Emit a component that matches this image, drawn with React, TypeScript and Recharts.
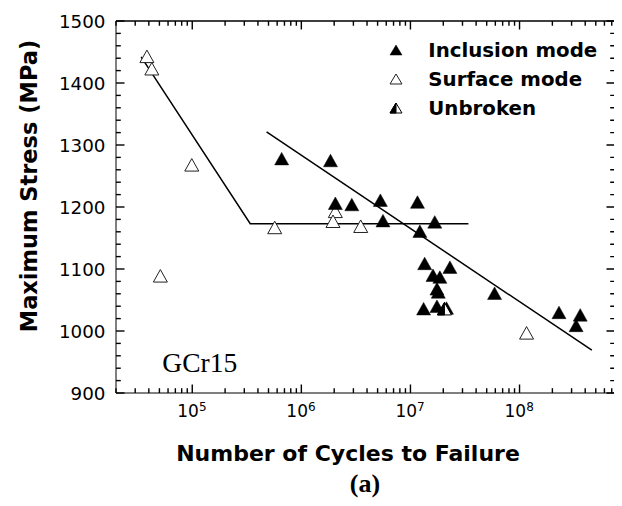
import React from 'react';
import { ScatterChart, Scatter, XAxis, YAxis } from 'recharts';

// ---- data ----
const inclusionX = [6.6e5, 1.85e6, 2.05e6, 2.9e6, 5.3e6, 5.6e6, 1.16e7, 1.67e7, 1.22e7, 1.35e7, 2.3e7, 1.61e7, 1.86e7, 1.75e7, 1.8e7, 1.32e7, 1.75e7, 2.14e7, 5.9e7, 2.3e8, 3.6e8, 3.3e8];
const inclusionY = [1278, 1275, 1206, 1204, 1211, 1178, 1208, 1176, 1161, 1109, 1103, 1090, 1087, 1068, 1063, 1036, 1040, 1037, 1061, 1030, 1026, 1009];
const surfaceX = [3.84e4, 4.26e4, 0.99e5, 5.1e4, 5.7e5, 2.05e6, 1.95e6, 3.5e6, 1.16e8];
const surfaceY = [1443, 1423, 1268, 1089, 1167, 1193, 1177, 1169, 997];
const unbrokenX = [2.05e7];
const unbrokenY = [1036];
const fitAX = [3.4e4, 3.4e5, 3.4e7];
const fitAY = [1442, 1173, 1173];
const fitBX = [4.8e5, 4.6e8];
const fitBY = [1321, 969];

const xDomain = [2e4, 7.5e8];
const yDomain = [900, 1500];
const xTicks = [
  2e4, 3e4, 4e4, 5e4, 6e4, 7e4, 8e4, 9e4,
  1e5, 2e5, 3e5, 4e5, 5e5, 6e5, 7e5, 8e5, 9e5,
  1e6, 2e6, 3e6, 4e6, 5e6, 6e6, 7e6, 8e6, 9e6,
  1e7, 2e7, 3e7, 4e7, 5e7, 6e7, 7e7, 8e7, 9e7,
  1e8, 2e8, 3e8, 4e8, 5e8, 6e8, 7e8,
];
const xMajorTicks = [1e5, 1e6, 1e7, 1e8];
const yTicks = [900, 920, 940, 960, 980, 1000, 1020, 1040, 1060, 1080, 1100, 1120, 1140, 1160, 1180, 1200, 1220, 1240, 1260, 1280, 1300, 1320, 1340, 1360, 1380, 1400, 1420, 1440, 1460, 1480, 1500];
const yMajorTicks = [900, 1000, 1100, 1200, 1300, 1400, 1500];
const legendLabels = ['Inclusion mode', 'Surface mode', 'Unbroken'];

const zip = (xs: number[], ys: number[]) => xs.map((x, i) => ({ x, y: ys[i] }));
const inclusionData = zip(inclusionX, inclusionY);
const surfaceData = zip(surfaceX, surfaceY);
const unbrokenData = zip(unbrokenX, unbrokenY);
const fitAData = zip(fitAX, fitAY);
const fitBData = zip(fitBX, fitBY);

const PLOT_W = 499;
const PLOT_H = 372;
const MAJOR_LEN = 8.5;
const MINOR_LEN = 4.8;
const xDecPerPx = Math.log10(xDomain[1] / xDomain[0]) / PLOT_W;
const yUnitsPerPx = (yDomain[1] - yDomain[0]) / PLOT_H;

const isMajorX = (v: number) => xMajorTicks.some((m) => Math.abs(m - v) < 1e-6 * m);
const isMajorY = (v: number) => yMajorTicks.includes(v);

// top and right mirrored tick marks, in data coordinates
const mirrorTickData: { x: number; y: number }[] = [];
xTicks.forEach((v) => {
  const dy = (isMajorX(v) ? MAJOR_LEN : MINOR_LEN) * yUnitsPerPx;
  mirrorTickData.push({ x: v, y: yDomain[1] - 0.01 }, { x: v, y: yDomain[1] - dy });
});
yTicks.forEach((v) => {
  const f = Math.pow(10, (isMajorY(v) ? MAJOR_LEN : MINOR_LEN) * xDecPerPx);
  mirrorTickData.push({ x: xDomain[1] * 0.9999, y: v }, { x: xDomain[1] / f, y: v });
});
const topRightFrame = [
  { x: xDomain[0] * 1.0001, y: yDomain[1] - 0.01 },
  { x: xDomain[1] * 0.9999, y: yDomain[1] - 0.01 },
  { x: xDomain[1] * 0.9999, y: yDomain[0] + 0.01 },
];

const SANS = '"DejaVu Sans", Verdana, sans-serif';
const SERIF = '"Liberation Serif", "Times New Roman", serif';

type Kind = 'filled' | 'open' | 'half';
const Tri = ({ cx, cy, kind, w = 14, h = 12.5 }: { cx: number; cy: number; kind: Kind; w?: number; h?: number }) => {
  const top = cy - h / 2;
  const bot = cy + h / 2;
  const pts = `${cx - w / 2},${bot} ${cx + w / 2},${bot} ${cx},${top}`;
  if (kind === 'half') {
    return (
      <g>
        <polygon points={pts} fill="#fff" stroke="#000" strokeWidth={1} />
        <polygon points={`${cx - w / 2},${bot} ${cx},${bot} ${cx},${top}`} fill="#000" stroke="#000" strokeWidth={1} />
      </g>
    );
  }
  return (
    <polygon
      points={pts}
      fill={kind === 'filled' ? '#000' : '#fff'}
      stroke={kind === 'filled' ? '#000' : '#222'}
      strokeWidth={kind === 'filled' ? 0.5 : 1}
    />
  );
};

const XTick = (props: any) => {
  const X = Number(props.x);
  const Y = Number(props.y);
  const v = Number(props.payload.value);
  const major = isMajorX(v);
  const exp = Math.round(Math.log10(v));
  return (
    <g>
      <line x1={X} y1={Y} x2={X} y2={Y - (major ? MAJOR_LEN : MINOR_LEN)} stroke="#000" strokeWidth={1.4} />
      {major && (
        <text x={X - 15} y={Y + 24} fontFamily={SANS} fontSize={17} fill="#000" textAnchor="start">
          10
          <tspan dy={-6.5} fontSize={12}>{exp}</tspan>
        </text>
      )}
    </g>
  );
};

const YTick = (props: any) => {
  const X = Number(props.x);
  const Y = Number(props.y);
  const v = Number(props.payload.value);
  const major = isMajorY(v);
  return (
    <g>
      <line x1={X} y1={Y} x2={X + (major ? MAJOR_LEN : MINOR_LEN)} y2={Y} stroke="#000" strokeWidth={1.4} />
      {major && (
        <text x={X - 10.5} y={Y + 6.6} fontFamily={SANS} fontSize={18.3} fill="#000" textAnchor="end">
          {String(v)}
        </text>
      )}
    </g>
  );
};

const segLine = (p: any) => {
  const pts = (p.points || []) as { x: number; y: number }[];
  let d = '';
  for (let i = 0; i + 1 < pts.length; i += 2) {
    d += `M${pts[i].x},${pts[i].y}L${pts[i + 1].x},${pts[i + 1].y}`;
  }
  return <path d={d} stroke="#000" strokeWidth={1.4} fill="none" />;
};

const shapeFor = (kind: Kind) => (p: any) => <Tri cx={p.cx} cy={p.cy} kind={kind} />;
const noShape = (p: any) => <circle cx={p.cx} cy={p.cy} r={0} fill="none" />;

const legendKinds: Kind[] = ['filled', 'open', 'half'];

export default function App() {
  return (
    <ScatterChart width={614} height={498} margin={{ top: 13, right: 7, bottom: 0, left: 0 }}>
      <XAxis
        dataKey="x"
        type="number"
        scale="log"
        domain={xDomain}
        ticks={xTicks}
        interval={0}
        height={113}
        tickSize={0}
        tickMargin={0}
        stroke="#000"
        tick={<XTick />}
      />
      <YAxis
        dataKey="y"
        type="number"
        domain={yDomain}
        ticks={yTicks}
        interval={0}
        width={108}
        tickSize={0}
        tickMargin={0}
        stroke="#000"
        tick={<YTick />}
      />
      <Scatter data={mirrorTickData} line={segLine} shape={noShape} isAnimationActive={false} />
      <Scatter data={topRightFrame} line={{ stroke: '#000', strokeWidth: 1.5 }} shape={noShape} isAnimationActive={false} />
      <Scatter data={fitAData} line={{ stroke: '#000', strokeWidth: 1.5 }} shape={noShape} isAnimationActive={false} />
      <Scatter data={fitBData} line={{ stroke: '#000', strokeWidth: 1.5 }} shape={noShape} isAnimationActive={false} />
      <Scatter data={surfaceData} shape={shapeFor('open')} isAnimationActive={false} />
      <Scatter data={inclusionData} shape={shapeFor('filled')} isAnimationActive={false} />
      <Scatter data={unbrokenData} shape={shapeFor('half')} isAnimationActive={false} />

      <g>
        {legendLabels.map((lab, i) => (
          <g key={lab}>
            <Tri cx={388} cy={42 + i * 29} kind={legendKinds[i]} w={12} h={10} />
            <text x={420.3} y={49.3 + i * 29} fontFamily={SANS} fontWeight="bold" fontSize={19.8} fill="#000">
              {lab}
            </text>
          </g>
        ))}
        <text x={154.3} y={363.7} fontFamily={SERIF} fontSize={27.5} fill="#000">
          GCr15
        </text>
        <text x={340} y={452.7} fontFamily={SANS} fontWeight="bold" fontSize={22} fill="#000" textAnchor="middle">
          Number of Cycles to Failure
        </text>
        <text x={357} y={484} fontFamily={SERIF} fontWeight="bold" fontSize={26} fill="#000" textAnchor="middle">
          (a)
        </text>
        <text
          x={28.7}
          y={178}
          transform="rotate(-90, 28.7, 178)"
          fontFamily={SANS}
          fontWeight="bold"
          fontSize={22.5}
          fill="#000"
          textAnchor="middle"
        >
          Maximum Stress (MPa)
        </text>
      </g>
    </ScatterChart>
  );
}
